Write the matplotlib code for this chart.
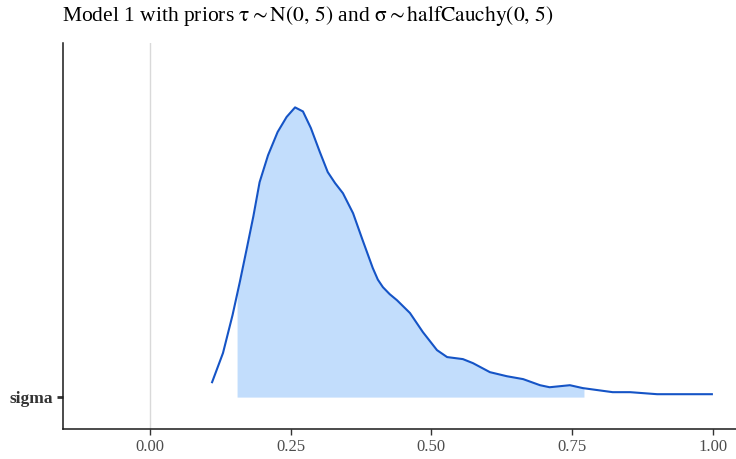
import numpy as np
import matplotlib
matplotlib.use("Agg")
import matplotlib.pyplot as plt

# density curve of sigma (x value, scaled density)
sigma_x = [0.110, 0.130, 0.147, 0.160, 0.172, 0.184, 0.195, 0.210, 0.227, 0.243,
           0.258, 0.272, 0.286, 0.302, 0.316, 0.329, 0.343, 0.361, 0.378, 0.396,
           0.405, 0.414, 0.426, 0.439, 0.462, 0.485, 0.510, 0.528, 0.556, 0.574,
           0.604, 0.634, 0.663, 0.693, 0.710, 0.746, 0.769, 0.822, 0.853, 0.901,
           0.959, 1.000]
sigma_d = [0.048, 0.152, 0.283, 0.398, 0.510, 0.624, 0.741, 0.834, 0.914, 0.966,
           0.999, 0.985, 0.928, 0.845, 0.776, 0.738, 0.703, 0.634, 0.541, 0.445,
           0.405, 0.379, 0.355, 0.334, 0.290, 0.224, 0.162, 0.138, 0.131, 0.117,
           0.086, 0.072, 0.062, 0.041, 0.034, 0.041, 0.031, 0.017, 0.017, 0.010,
           0.010, 0.010]
interval = [0.155, 0.771]
param_labels = ["sigma"]
x_ticks = [0.00, 0.25, 0.50, 0.75, 1.00]
x_tick_labels = ["0.00", "0.25", "0.50", "0.75", "1.00"]
title = (r"Model 1 with priors $\mathrm{\tau} \sim \mathrm{N}\left(0,\, 5\right)$"
         r" and $\mathrm{\sigma} \sim \mathrm{halfCauchy}\left(0,\, 5\right)$")

plt.rcParams['font.family'] = ['Liberation Serif', 'DejaVu Serif']
plt.rcParams['mathtext.fontset'] = 'stix'

fig = plt.figure(figsize=(7.36, 4.59), dpi=100)
ax = fig.add_axes([62.5/736, 30/459, 1 - 62.5/736, (429-43)/459])

xs = np.array(sigma_x)
ds = np.array(sigma_d)
lo, hi = interval
mask = (xs > lo) & (xs < hi)
fx = np.concatenate([[lo], xs[mask], [hi]])
fy = np.concatenate([[np.interp(lo, xs, ds)], ds[mask], [np.interp(hi, xs, ds)]])

ax.axvline(0, color='#d9d9d9', lw=1.0, zorder=0)
ax.fill_between(fx, 0, fy, color='#c2ddfc', lw=0, zorder=1)
ax.plot(xs, ds, color='#1554c6', lw=1.5, zorder=2, solid_joinstyle='round',
        solid_capstyle='butt')

ax.set_xlim(-0.155, 1.041)
ax.set_ylim(-0.110, 1.221)
ax.set_xticks(x_ticks)
ax.set_xticklabels(x_tick_labels, fontsize=12, color='#4d4d4d')
ax.set_yticks([0])
ax.set_yticklabels(param_labels, fontsize=12.5, fontweight='bold', color='#333333')
ax.tick_params(axis='both', length=4, width=1.0, color='#333333', pad=3)
ax.tick_params(axis='y', length=4, width=2.0)
for s in ['top', 'right']:
    ax.spines[s].set_visible(False)
for s in ['left', 'bottom']:
    ax.spines[s].set_linewidth(1.1)
    ax.spines[s].set_color('#1a1a1a')

ax.text(0.0, 1.0 + 27/386, title, transform=ax.transAxes, fontsize=15.5,
        ha='left', va='center', color='#000000')

fig.savefig("out.png", dpi=100)
